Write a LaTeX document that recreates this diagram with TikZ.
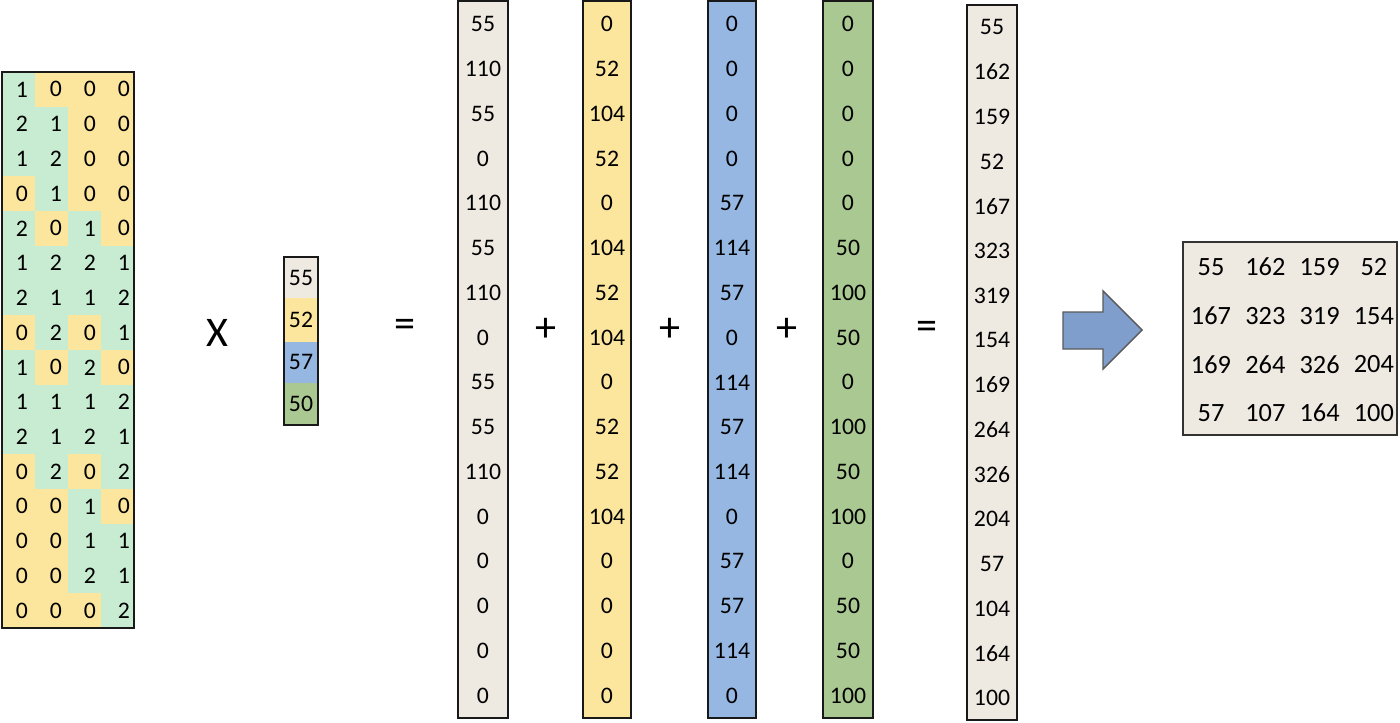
\documentclass[tikz,border=0pt]{standalone}
\usepackage{fontspec}
\setmainfont{Carlito}
\usepackage{xcolor}
\definecolor{mint}{RGB}{200,236,210}
\definecolor{butter}{RGB}{252,230,158}
\definecolor{linen}{RGB}{238,234,226}
\definecolor{sky}{RGB}{149,183,225}
\definecolor{sage}{RGB}{170,200,145}
\definecolor{arrowblue}{RGB}{128,158,204}
\usepackage{tikz}
\usetikzlibrary{calc}
\tikzset{
  num/.style={font=\fontsize{13.5}{16}\selectfont,inner sep=0pt},
  bignum/.style={font=\fontsize{15}{18}\selectfont,inner sep=0pt},
  op/.style={font=\fontsize{24}{28}\selectfont,inner sep=0pt},
  frame/.style={draw=black!90,line width=1.4pt},
}

\begin{document}
\begin{tikzpicture}[x=0.02cm,y=-0.02cm]
\useasboundingbox (0,0) rectangle (1400,723);
% left matrix
\foreach \row [count=\i] in {{1,0,0,0},{2,1,0,0},{1,2,0,0},{0,1,0,0},
    {2,0,1,0},{1,2,2,1},{2,1,1,2},{0,2,0,1},{1,0,2,0},{1,1,1,2},
    {2,1,2,1},{0,2,0,2},{0,0,1,0},{0,0,1,1},{0,0,2,1},{0,0,0,2}}{
  \foreach \v [count=\j] in \row{
    \ifnum\v=0\relax\def\cc{butter}\else\def\cc{mint}\fi
    \fill[\cc] ({2+33*(\j-1)},{72+34.75*(\i-1)}) rectangle ++(33,34.75);
    \node[num] (m-\i-\j) at ({22+34*(\j-1)},{72+34.75*(\i-0.5)}) {\v};
  }
}
\draw[frame,line width=1.2pt] (2,72) rectangle (134,628);
\node[op] (times) at (217,333) {X};
% weights
\fill[linen] (284,257) rectangle (318,298);
\fill[butter] (284,298) rectangle (318,342);
\fill[sky] (284,342) rectangle (318,383);
\fill[sage] (284,383) rectangle (318,425);
\draw[frame,line width=1.2pt] (284,257) rectangle (318,425);
\foreach \v/\y [count=\i] in {55/278,52/320,57/362,50/404}
  \node[num] (w-\i) at (301,\y) {\v};
\node[op] (eq1) at (405,328) {=};
% partial columns
\fill[linen] (458,1) rectangle (508,718);
\fill[butter] (583,1) rectangle (631,718);
\fill[sky] (708,1) rectangle (756,718);
\fill[sage] (823,1) rectangle (872,718);
\foreach \x in {458,583,708,823}
  \draw[frame] (\x,1) rectangle ++({\x==583 || \x==708 ? 48 : 50},717);
\foreach \v [count=\i] in {55,110,55,0,110,55,110,0,55,55,110,0,0,0,0,0}
  \node[num] (a-\i) at (483,{2+44.75*(\i-0.5)}) {\v};
\foreach \v [count=\i] in {0,52,104,52,0,104,52,104,0,52,52,104,0,0,0,0}
  \node[num] (b-\i) at (607,{2+44.75*(\i-0.5)}) {\v};
\foreach \v [count=\i] in {0,0,0,0,57,114,57,0,114,57,114,0,57,57,114,0}
  \node[num] (c-\i) at (732,{2+44.75*(\i-0.5)}) {\v};
\foreach \v [count=\i] in {0,0,0,0,0,50,100,50,0,100,50,100,0,50,50,100}
  \node[num] (d-\i) at (848,{2+44.75*(\i-0.5)}) {\v};
\node[op] (plus1) at (546,330) {+};
\node[op] (plus2) at (670,330) {+};
\node[op] (plus3) at (787,330) {+};
\node[op] (eq2) at (927,330) {=};
% sum column
\fill[linen] (967,5) rectangle (1017,720);
\draw[frame] (967,5) rectangle (1017,720);
\foreach \v [count=\i] in {55,162,159,52,167,323,319,154,169,264,326,204,57,104,164,100}
  \node[num] (s-\i) at (992,{5+44.7*(\i-0.5)}) {\v};
% reshape arrow
\draw[fill=arrowblue,draw=black!65,line width=0.8pt]
  (1063,312) -- (1103,312) -- (1103,291) -- (1142,330) -- (1103,369)
  -- (1103,349) -- (1063,349) -- cycle;
% result matrix
\fill[linen] (1183,242) rectangle (1397,435);
\draw[draw=black!80,line width=1pt] (1183,242) rectangle (1397,435);
\foreach \row [count=\i] in {{55,162,159,52},{167,323,319,154},
    {169,264,326,204},{57,107,164,100}}{
  \foreach \v [count=\j] in \row
    \node[bignum] (r-\i-\j) at ({1211+54.3*(\j-1)},{267+48.7*(\i-1)}) {\v};
}
\end{tikzpicture}
\end{document}
